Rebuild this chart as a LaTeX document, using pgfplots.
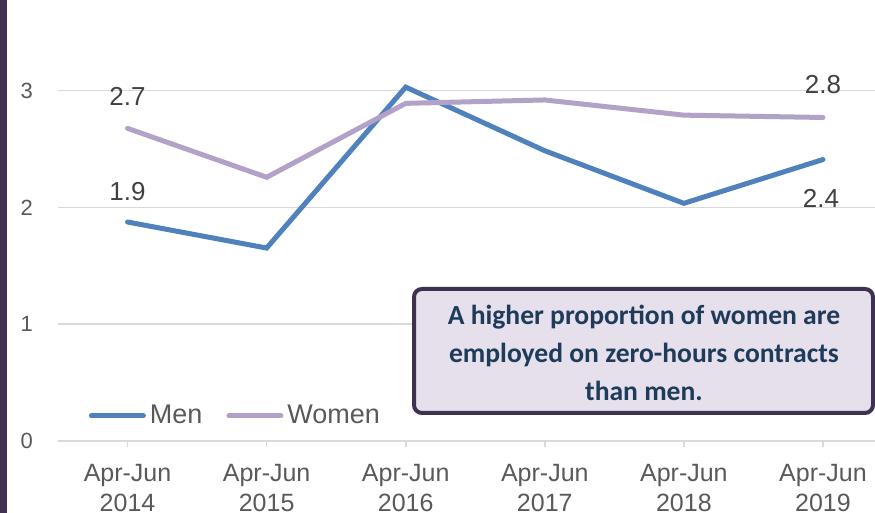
\documentclass[border=0pt]{standalone}
\usepackage{fontspec}
\setmainfont{Liberation Sans}
\newfontfamily\boxfont{Carlito}
\usepackage{pgfplots}
\pgfplotsset{compat=1.18}

\definecolor{menblue}{HTML}{4F81BD}
\definecolor{womenlav}{HTML}{B3A2C7}
\definecolor{gridgray}{HTML}{D9D9D9}
\definecolor{ticktext}{HTML}{595959}
\definecolor{labeltext}{HTML}{404040}
\definecolor{darkpurple}{HTML}{3F3151}
\definecolor{boxfill}{HTML}{E5E0EC}
\definecolor{boxtext}{HTML}{1F3B5A}

\begin{document}
\begin{tikzpicture}
\useasboundingbox (-29pt,-36pt) rectangle (408.5pt,220.5pt);
\fill[darkpurple] (-29pt,-36pt) rectangle (-25.5pt,220.5pt);
\begin{axis}[
  at={(0,0)}, anchor=south west,
  scale only axis, width=408.5pt, height=220.5pt,
  xmin=-0.5, xmax=5.374, ymin=0, ymax=3.776,
  axis x line*=bottom, axis y line*=left,
  x axis line style={draw=gridgray, line width=1pt},
  y axis line style={draw=none},
  xtick={0,1,2,3,4,5},
  xticklabels={{Apr-Jun\\2014},{Apr-Jun\\2015},{Apr-Jun\\2016},{Apr-Jun\\2017},{Apr-Jun\\2018},{Apr-Jun\\2019}},
  ytick={0,1,2,3},
  ymajorgrids, grid style={draw=gridgray, line width=0.8pt},
  tick align=outside, major tick length=3pt,
  xtick style={draw=gridgray, line width=0.8pt},
  ytick style={draw=none},
  /pgf/number format/assume math mode=true,
  xticklabel style={align=center, text=ticktext, font=\fontsize{12.5}{15}\selectfont, yshift=-5pt},
  yticklabel style={text=ticktext, font=\fontsize{11}{13}\selectfont, xshift=-6pt},
  legend style={at={(axis description cs:0.03,0.057)}, anchor=west, draw=none, fill=none,
    font=\fontsize{13.5}{16}\selectfont, text=ticktext,
    nodes={inner xsep=2pt},
    /tikz/every even column/.append style={column sep=10pt}},
  legend columns=2,
  legend image code/.code={\draw[#1] (0pt,0pt) -- (26pt,0pt);},
  clip=false,
]
\addplot[menblue, line width=2.5pt, line cap=round] coordinates {
  (0,1.875)(1,1.652)(2,3.03)(3,2.485)(4,2.035)(5,2.41)};
\addlegendentry{Men}
\addplot[womenlav, line width=2.5pt, line cap=round] coordinates {
  (0,2.677)(1,2.258)(2,2.891)(3,2.92)(4,2.79)(5,2.77)};
\addlegendentry{Women}

\node[text=labeltext, font=\fontsize{13}{15}\selectfont] at (axis cs:0,2.954) {2.7};
\node[text=labeltext, font=\fontsize{13}{15}\selectfont] at (axis cs:0,2.14) {1.9};
\node[text=labeltext, font=\fontsize{13}{15}\selectfont] at (axis cs:5,3.048) {2.8};
\node[text=labeltext, font=\fontsize{13}{15}\selectfont] at (axis cs:4.985,2.08) {2.4};
\end{axis}
\draw[darkpurple, line width=2pt, fill=boxfill, rounded corners=4pt] (178pt,14pt) rectangle (407.5pt,76pt);
\node[align=center, text=boxtext, font=\boxfont\bfseries\fontsize{13.8}{19}\selectfont] at (293pt,44pt)
  {A higher proportion of women are\\employed on zero-hours contracts\\than men.};
\end{tikzpicture}
\end{document}
